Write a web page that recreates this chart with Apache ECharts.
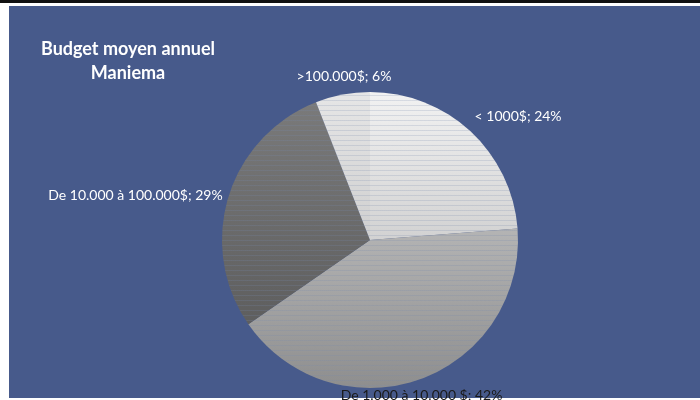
<!DOCTYPE html>
<html>
<head>
<meta charset="utf-8">
<script src="https://cdn.jsdelivr.net/npm/echarts@6/dist/echarts.min.js"></script>
<style>
  html, body { margin: 0; padding: 0; background: #ffffff; }
  #chart { width: 700px; height: 400px; }
</style>
</head>
<body>
<div id="chart"></div>
<script>
// données
const categories = ['< 1000$', 'De 1.000 à 10.000 $', 'De 10.000 à 100.000$', '>100.000$'];
const percents = [24, 42, 29, 6];

// dégradés gris des parts
const sliceColors = [
  ['#f2f2f2', '#d2d2d2'],
  ['#b4b4b4', '#8e8e8e'],
  ['#7a7a7a', '#5e5e5e'],
  ['#e6e6e6', '#cfcfcf']
];
// petits décalages des étiquettes (comme dans Excel)
const labelShift = [[-5, -10], [-86, 10], [5, 0], [55, -12]];

const myChart = echarts.init(document.getElementById('chart'));

const option = {
  backgroundColor: '#ffffff',
  animation: false,
  graphic: [
    { type: 'rect', shape: { x: 0, y: 0, width: 700, height: 3 }, style: { fill: '#111111' }, z: -10 },
    { type: 'rect', shape: { x: 9, y: 6, width: 691, height: 392 }, style: { fill: '#475a8b' }, z: -10 }
  ],
  title: {
    text: 'Budget moyen annuel\nManiema',
    left: 123,
    top: 32,
    textAlign: 'center',
    textStyle: {
      fontFamily: 'Lato',
      fontWeight: 'bold',
      fontSize: 18,
      lineHeight: 24,
      color: '#ffffff'
    }
  },
  series: [{
    type: 'pie',
    center: [370, 240],
    radius: 148,
    startAngle: 90,
    clockwise: true,
    avoidLabelOverlap: false,
    label: {
      show: true,
      position: 'outside',
      formatter: '{b}; {c}%',
      fontFamily: 'Lato',
      fontSize: 14,
      color: '#ffffff'
    },
    labelLine: { show: false, length: 6, length2: 0 },
    labelLayout: function (params) {
      const s = labelShift[params.dataIndex];
      return { dx: s[0], dy: s[1] };
    },
    emphasis: { disabled: true },
    data: categories.map((name, i) => ({
      name,
      value: percents[i],
      itemStyle: {
        color: new echarts.graphic.LinearGradient(0, 0, 0, 1, [
          { offset: 0, color: sliceColors[i][0] },
          { offset: 1, color: sliceColors[i][1] }
        ]),
        decal: {
          symbol: 'rect',
          symbolSize: 1,
          dashArrayX: [[8, 0]],
          dashArrayY: [1, 4],
          rotation: 0,
          color: 'rgba(120,135,175,0.22)'
        }
      },
      label: i === 1 ? { color: '#1a1a1a' } : {}
    }))
  }]
};

myChart.setOption(option);
</script>
</body>
</html>
